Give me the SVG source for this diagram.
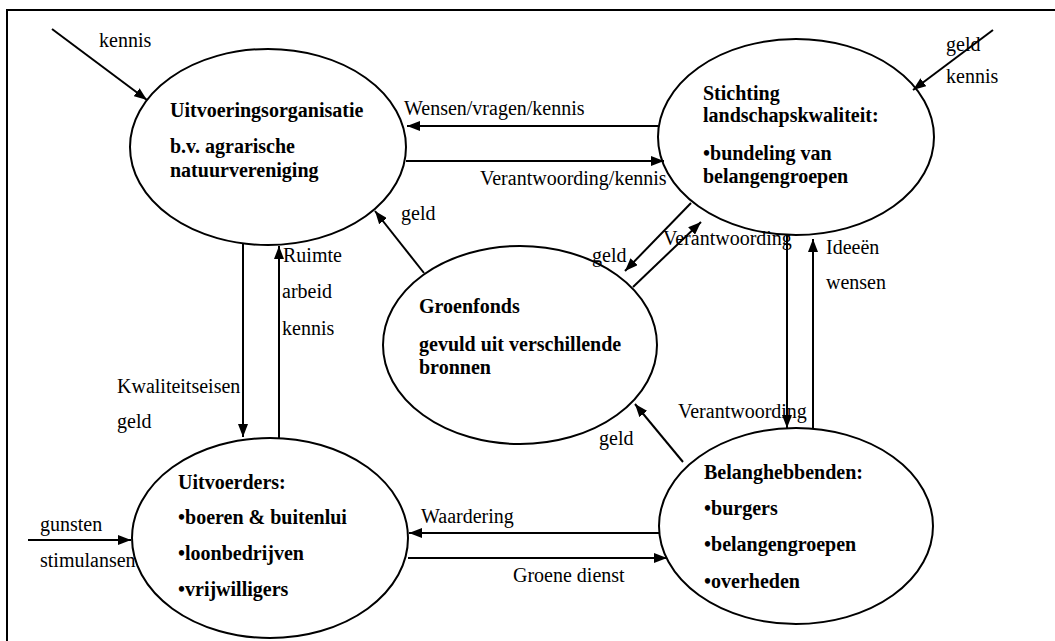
<svg xmlns="http://www.w3.org/2000/svg" width="1055" height="641" viewBox="0 0 1055 641" font-family="'Liberation Serif', 'Times New Roman', Times, serif">
<defs>
<style>
text{font-family:'Liberation Serif','Times New Roman',Times,serif;font-size:20px;fill:#000}
.node ellipse{fill:#fff;stroke:#000;stroke-width:2}
.b{font-weight:bold}
.c line{stroke:#000;stroke-width:2;fill:none}
.a{marker-end:url(#ah)}
</style>
<marker id="ah" markerUnits="userSpaceOnUse" markerWidth="14" markerHeight="10" refX="13" refY="5" orient="auto">
<path d="M0,0 L13,5 L0,10 Z" fill="#000"/>
</marker>
</defs>
<rect x="0" y="0" width="1055" height="641" fill="#fff"/>
<rect x="7" y="10" width="1080" height="700" fill="none" stroke="#000" stroke-width="2"/>

<g id="n-uitvoeringsorganisatie" class="node">
<ellipse cx="268" cy="147" rx="138" ry="98"/>
<text class="b" x="170" y="117">Uitvoeringsorganisatie</text>
<text class="b" x="170" y="153">b.v. agrarische</text>
<text class="b" x="170" y="177">natuurvereniging</text>
</g>
<g id="n-stichting" class="node">
<ellipse cx="796" cy="137" rx="138" ry="98"/>
<text class="b" x="703" y="100">Stichting</text>
<text class="b" x="703" y="122">landschapskwaliteit:</text>
<text class="b" x="703" y="160">•bundeling van</text>
<text class="b" x="703" y="183">belangengroepen</text>
</g>
<g id="n-groenfonds" class="node">
<ellipse cx="520" cy="345" rx="137" ry="99"/>
<text class="b" x="419" y="313">Groenfonds</text>
<text class="b" x="419" y="351">gevuld uit verschillende</text>
<text class="b" x="419" y="374">bronnen</text>
</g>
<g id="n-uitvoerders" class="node">
<ellipse cx="270" cy="538" rx="138" ry="100"/>
<text class="b" x="178" y="489">Uitvoerders:</text>
<text class="b" x="178" y="524">•boeren &amp; buitenlui</text>
<text class="b" x="178" y="560">•loonbedrijven</text>
<text class="b" x="178" y="596">•vrijwilligers</text>
</g>
<g id="n-belanghebbenden" class="node">
<ellipse cx="796" cy="526" rx="137" ry="98"/>
<text class="b" x="704" y="479">Belanghebbenden:</text>
<text class="b" x="704" y="515">•burgers</text>
<text class="b" x="704" y="551">•belangengroepen</text>
<text class="b" x="704" y="588">•overheden</text>
</g>

<g id="connectors" class="c">
<line class="a" x1="52" y1="29" x2="147" y2="100"/>
<line class="a" x1="993" y1="30" x2="913" y2="90"/>
<line class="a" x1="658" y1="126" x2="407" y2="126"/>
<line class="a" x1="406" y1="161" x2="664" y2="161"/>
<line class="a" x1="424" y1="273" x2="375" y2="211"/>
<line class="a" x1="243" y1="244" x2="243" y2="437"/>
<line class="a" x1="279" y1="438" x2="279" y2="246"/>
<line class="a" x1="691" y1="203" x2="625" y2="271"/>
<line class="a" x1="633" y1="287" x2="701" y2="222"/>
<line class="a" x1="787" y1="235" x2="787" y2="428"/>
<line class="a" x1="813" y1="428" x2="813" y2="239"/>
<line class="a" x1="683" y1="462" x2="635" y2="404"/>
<line class="a" x1="659" y1="533" x2="409" y2="533"/>
<line class="a" x1="408" y1="558" x2="667" y2="558"/>
<line class="a" x1="28" y1="540" x2="131" y2="540"/>
</g>

<g id="labels">
<text x="99" y="47">kennis</text>
<text x="946" y="51">geld</text>
<text x="946" y="83">kennis</text>
<text x="404" y="115">Wensen/vragen/kennis</text>
<text x="480" y="185">Verantwoording/kennis</text>
<text x="401" y="220">geld</text>
<text x="283" y="262">Ruimte</text>
<text x="282" y="298">arbeid</text>
<text x="282" y="335">kennis</text>
<text x="117" y="393">Kwaliteitseisen</text>
<text x="117" y="428">geld</text>
<text x="592" y="262">geld</text>
<text x="663" y="245">Verantwoording</text>
<text x="826" y="254">Ideeën</text>
<text x="826" y="289">wensen</text>
<text x="678" y="418">Verantwoording</text>
<text x="599" y="445">geld</text>
<text x="421" y="523">Waardering</text>
<text x="513" y="582">Groene dienst</text>
<text x="40" y="531">gunsten</text>
<text x="40" y="567">stimulansen</text>
</g>
</svg>
